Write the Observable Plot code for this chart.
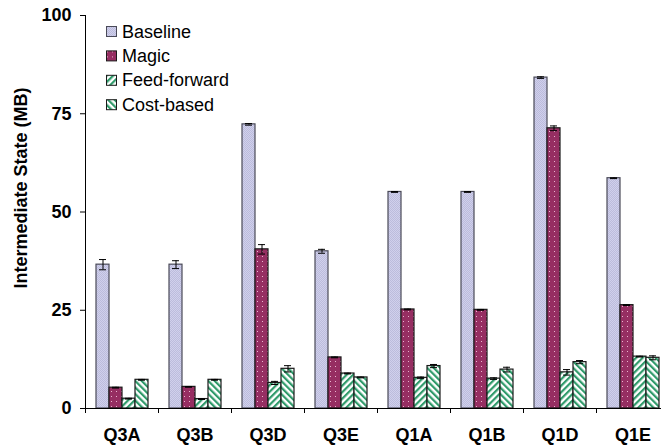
<!DOCTYPE html>
<html>
<head>
<meta charset="utf-8">
<script src="https://cdn.jsdelivr.net/npm/d3@7"></script>
<script src="https://cdn.jsdelivr.net/npm/@observablehq/plot@0.6"></script>
<style>
  body { margin: 0; background: #fff; }
  #chart { position: relative; width: 661px; height: 448px; overflow: hidden; }
  #chart svg.overlay { position: absolute; left: 0; top: 0; pointer-events: none; }
  .defs { position: absolute; width: 0; height: 0; }
</style>
</head>
<body>
<svg class="defs" aria-hidden="true">
  <defs>
    <pattern id="pat-baseline" width="2" height="2" patternUnits="userSpaceOnUse">
      <rect width="2" height="2" fill="#d0d0ec"/>
      <rect width="1" height="1" fill="#bcbcdc"/>
      <rect x="1" y="1" width="1" height="1" fill="#bcbcdc"/>
    </pattern>
    <pattern id="pat-magic" width="5" height="5" patternUnits="userSpaceOnUse">
      <rect width="5" height="5" fill="#962e62"/>
      <rect x="1" y="1" width="1" height="1" fill="#e9b6cf"/>
    </pattern>
    <pattern id="pat-feed" width="4.6" height="4.6" patternUnits="userSpaceOnUse" patternTransform="rotate(45)">
      <rect width="4.6" height="4.6" fill="#fff"/>
      <rect width="2.2" height="4.6" fill="#2f9a6a"/>
    </pattern>
    <pattern id="pat-cost" width="4.6" height="4.6" patternUnits="userSpaceOnUse" patternTransform="rotate(-45)">
      <rect width="4.6" height="4.6" fill="#fff"/>
      <rect width="2.2" height="4.6" fill="#2f9a6a"/>
    </pattern>
  </defs>
</svg>
<div id="chart"></div>
<script>
// Queries on the x axis and the four plan strategies compared for each one
const queries = ["Q3A", "Q3B", "Q3D", "Q3E", "Q1A", "Q1B", "Q1D", "Q1E"];
const series = ["Baseline", "Magic", "Feed-forward", "Cost-based"];

// Intermediate state in MB, with the half-width of each error bar
const baseline    = [36.6, 36.6, 72.3, 40.0, 55.1, 55.1, 84.2, 58.6];
const baselineErr = [1.3, 1.0, 0.2, 0.5, 0.1, 0.1, 0.2, 0.1];
const magic       = [5.3, 5.5, 40.5, 13.0, 25.2, 25.1, 71.3, 26.3];
const magicErr    = [0.1, 0.1, 1.2, 0.1, 0.1, 0.1, 0.6, 0.1];
const feedForward = [2.5, 2.4, 6.5, 8.9, 7.8, 7.6, 9.2, 13.2];
const feedErr     = [0.1, 0.1, 0.4, 0.1, 0.2, 0.2, 0.7, 0.1];
const costBased   = [7.3, 7.3, 10.1, 7.9, 10.8, 9.9, 11.8, 12.9];
const costErr     = [0.1, 0.1, 0.8, 0.1, 0.4, 0.6, 0.4, 0.5];

const yTicks = [0, 25, 50, 75, 100];
const yLabel = "Intermediate State (MB)";

// Fill pattern and outline for each strategy
const fills = ["url(#pat-baseline)", "url(#pat-magic)", "url(#pat-feed)", "url(#pat-cost)"];
const outlines = ["#4a4a58", "#1a1a1a", "#1a1a1a", "#1a1a1a"];

const values = [baseline, magic, feedForward, costBased];
const errors = [baselineErr, magicErr, feedErr, costErr];
const rows = [];
queries.forEach((q, i) => {
  series.forEach((s, j) => {
    rows.push({query: q, series: s, value: values[j][i], err: errors[j][i], outline: outlines[j]});
  });
});

const font = "'Liberation Sans', Arial, sans-serif";
const W = 661, H = 448;
const mLeft = 85, mTop = 15, mBottom = 40;
const plotRight = 669; // the last group runs slightly past the window edge
const groupWidth = (plotRight - mLeft) / queries.length;

const chart = Plot.plot({
  width: W,
  height: H,
  marginLeft: mLeft,
  marginRight: W - plotRight,
  marginTop: mTop,
  marginBottom: mBottom,
  style: {fontFamily: font, color: "#000", background: "transparent", overflow: "visible"},
  fx: {domain: queries, padding: 0, label: null},
  x: {domain: series, paddingInner: 0, paddingOuter: 0.77, axis: null},
  y: {domain: [0, 100], label: null},
  color: {domain: series, range: fills},
  marks: [
    Plot.barY(rows, {
      fx: "query", x: "series", y: "value", fill: "series",
      stroke: {value: "outline", scale: null}, strokeWidth: 1.2
    }),
    // error bars: stem plus caps
    Plot.ruleX(rows, {
      fx: "query", x: "series",
      y1: d => d.value - d.err, y2: d => d.value + d.err,
      stroke: "#000", strokeWidth: 1
    }),
    Plot.tickY(rows, {fx: "query", x: "series", y: d => d.value + d.err, stroke: "#000", insetLeft: 3, insetRight: 3}),
    Plot.tickY(rows, {fx: "query", x: "series", y: d => d.value - d.err, stroke: "#000", insetLeft: 3, insetRight: 3}),
    Plot.ruleY([0], {stroke: "#000", strokeWidth: 1}),
    Plot.frame({anchor: "left", facetAnchor: "left", stroke: "#000"}),
    Plot.axisY({
      ticks: yTicks, tickSize: 5, tickPadding: 9, label: null,
      fontSize: 18, fontWeight: "bold"
    }),
    Plot.axisFx({
      anchor: "bottom", tickSize: 0, tickPadding: 20, label: null,
      fontSize: 18, fontWeight: "bold"
    }),
    // group separators below the baseline
    Plot.axisFx({
      anchor: "bottom", tickSize: 5, tickFormat: () => "", label: null,
      dx: -groupWidth / 2, stroke: "#000"
    })
  ]
});

const container = document.getElementById("chart");
container.appendChild(chart);

// Y-axis title and the legend, drawn in an overlay
const overlay = d3.create("svg")
  .attr("class", "overlay")
  .attr("width", W)
  .attr("height", H)
  .style("font-family", font);

overlay.append("text")
  .attr("transform", "translate(27,188) rotate(-90)")
  .attr("text-anchor", "middle")
  .attr("font-size", 18)
  .attr("font-weight", "bold")
  .text(yLabel);

const legend = overlay.append("g").attr("transform", "translate(106,26)");
series.forEach((s, j) => {
  const g = legend.append("g").attr("transform", `translate(0,${j * 24.4})`);
  g.append("rect")
    .attr("x", 0.5).attr("y", 0.5)
    .attr("width", 10).attr("height", 10)
    .attr("fill", fills[j])
    .attr("stroke", outlines[j])
    .attr("stroke-width", 1);
  g.append("text")
    .attr("x", 16)
    .attr("y", 11.5)
    .attr("font-size", 18)
    .text(s);
});

container.appendChild(overlay.node());
</script>
</body>
</html>
